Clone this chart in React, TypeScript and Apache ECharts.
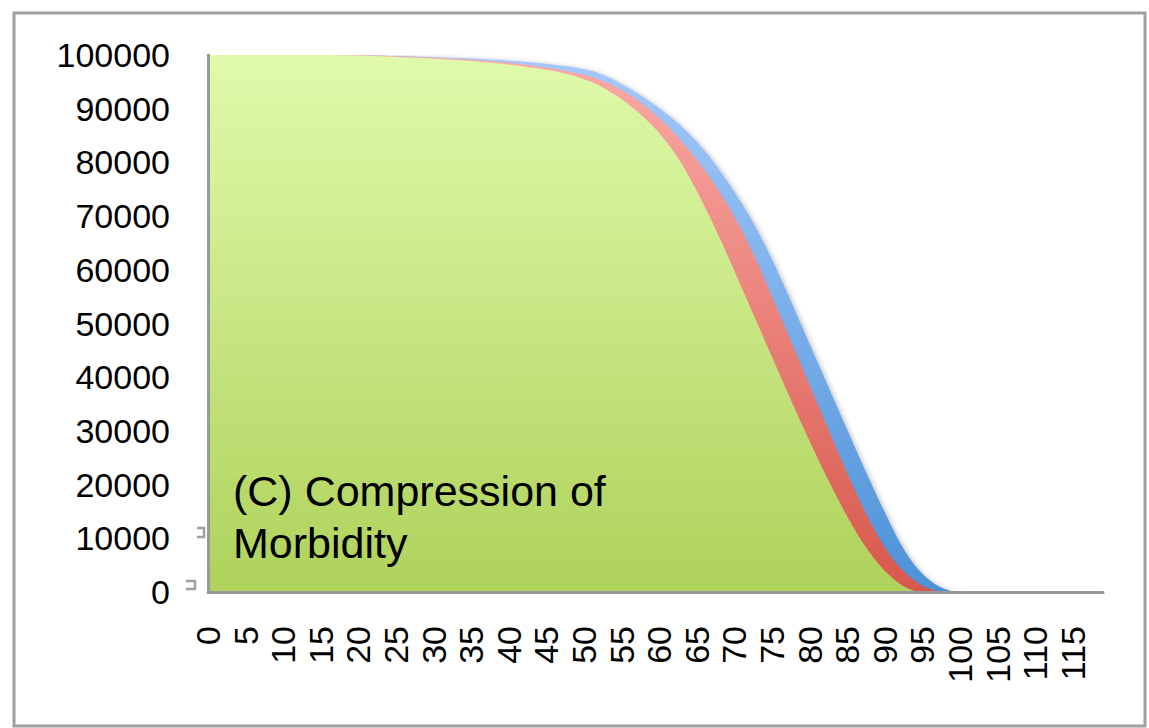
import React, { useEffect, useRef } from "react";
import * as echarts from "echarts";

const ages: string[] = Array.from({ length: 120 }, (_, i) => String(i));

const yTicks = [0, 10000, 20000, 30000, 40000, 50000, 60000, 70000, 80000, 90000, 100000];

const totalSurvival = [
  100000, 100000, 100000, 100000, 100000, 100000, 100000, 100000, 100000, 100000,
  100000, 100000, 100000, 100000, 100000, 100000, 100000, 100000, 100000, 100000,
  99980, 99960, 99940, 99910, 99880, 99850, 99810, 99770, 99730, 99690,
  99650, 99600, 99550, 99500, 99440, 99380, 99310, 99230, 99150, 99060,
  98970, 98870, 98760, 98640, 98510, 98370, 98210, 98040, 97850, 97640,
  97400, 97050, 96600, 96000, 95350, 94600, 93800, 92950, 92050, 91100,
  90100, 89050, 87900, 86650, 85300, 83850, 82250, 80500, 78600, 76600,
  74500, 72300, 70000, 67500, 64800, 61900, 58900, 55800, 52600, 49400,
  46200, 43000, 39800, 36600, 33400, 30200, 27000, 23850, 20800, 17750,
  14800, 11900, 9200, 6900, 4950, 3400, 2150, 1200, 550, 150,
  30, 0, 0, 0, 0, 0, 0, 0, 0, 0,
  0, 0, 0, 0, 0, 0, 0, 0, 0, 0,
];

const disabilityFree = [
  100000, 100000, 100000, 100000, 100000, 100000, 100000, 100000, 100000, 100000,
  100000, 100000, 100000, 100000, 100000, 100000, 100000, 100000, 100000, 100000,
  99970, 99940, 99910, 99870, 99830, 99780, 99730, 99680, 99620, 99560,
  99500, 99440, 99370, 99300, 99220, 99130, 99030, 98920, 98800, 98680,
  98550, 98400, 98250, 98080, 97880, 97660, 97420, 97170, 96900, 96620,
  96300, 95900, 95450, 94900, 94250, 93500, 92650, 91700, 90650, 89500,
  88250, 86900, 85450, 83900, 82250, 80500, 78650, 76650, 74550, 72300,
  69900, 67300, 64500, 61500, 58300, 55000, 51700, 48400, 45100, 41800,
  38500, 35200, 31900, 28600, 25300, 22100, 19000, 16000, 13200, 10600,
  8300, 6300, 4600, 3200, 2100, 1200, 550, 180, 40, 0,
  0, 0, 0, 0, 0, 0, 0, 0, 0, 0,
  0, 0, 0, 0, 0, 0, 0, 0, 0, 0,
];

const diseaseFree = [
  100000, 100000, 100000, 100000, 100000, 100000, 100000, 100000, 100000, 100000,
  100000, 100000, 100000, 100000, 100000, 100000, 99990, 99970, 99950, 99920,
  99890, 99850, 99810, 99760, 99710, 99650, 99590, 99530, 99460, 99390,
  99310, 99230, 99150, 99060, 98970, 98870, 98760, 98640, 98510, 98370,
  98220, 98060, 97880, 97690, 97480, 97250, 97000, 96700, 96350, 95950,
  95500, 94950, 94300, 93550, 92700, 91750, 90700, 89550, 88300, 86950,
  85450, 83750, 81850, 79700, 77250, 74650, 71900, 69000, 66000, 62900,
  59750, 56550, 53350, 50150, 46950, 43750, 40550, 37350, 34200, 31100,
  28050, 25050, 22150, 19350, 16650, 14050, 11600, 9300, 7300, 5500,
  3900, 2600, 1500, 700, 200, 30, 0, 0, 0, 0,
  0, 0, 0, 0, 0, 0, 0, 0, 0, 0,
  0, 0, 0, 0, 0, 0, 0, 0, 0, 0,
];

const annotation = "(C) Compression of\nMorbidity";

const FONT = "'Liberation Sans', Arial, sans-serif";
const AXIS_GRAY = "#999999";

function grad(top: string, bottom: string) {
  return new echarts.graphic.LinearGradient(0, 0, 0, 1, [
    { offset: 0, color: top },
    { offset: 1, color: bottom },
  ]);
}

export default function App() {
  const ref = useRef<HTMLDivElement>(null);

  useEffect(() => {
    if (!ref.current) return;
    const chart = echarts.init(ref.current, null, { renderer: "svg" });
    const mkSeries = (name: string, data: number[], top: string, bottom: string, shadow: boolean) => ({
      name,
      type: "line",
      data,
      showSymbol: false,
      symbol: "none",
      smooth: 0.3,
      lineStyle: { width: 0 },
      areaStyle: {
        color: grad(top, bottom),
        opacity: 1,
        ...(shadow
          ? { shadowBlur: 5, shadowColor: "rgba(0,0,0,0.25)", shadowOffsetX: 2, shadowOffsetY: 1 }
          : {}),
      },
      silent: true,
    });
    chart.setOption({
      animation: false,
      backgroundColor: "#ffffff",
      grid: { left: 208, top: 55, right: 46, bottom: 136, containLabel: false },
      xAxis: {
        type: "category",
        data: ages,
        boundaryGap: false,
        axisLine: { show: true, lineStyle: { color: AXIS_GRAY, width: 3 } },
        axisTick: { show: false },
        axisLabel: {
          interval: 4,
          rotate: 90,
          margin: 34,
          fontSize: 34,
          color: "#000",
          fontFamily: FONT,
        },
        splitLine: { show: false },
        z: 10,
      },
      yAxis: {
        type: "value",
        min: yTicks[0],
        max: yTicks[yTicks.length - 1],
        interval: yTicks[1] - yTicks[0],
        axisLine: { show: true, lineStyle: { color: AXIS_GRAY, width: 3 } },
        axisTick: { show: false },
        axisLabel: {
          margin: 38,
          fontSize: 34,
          color: "#000",
          fontFamily: FONT,
          formatter: (v: number) => String(v),
        },
        splitLine: { show: false },
        z: 10,
      },
      series: [
        mkSeries("Total survival", totalSurvival, "#a6c9fb", "#4d92d8", true),
        mkSeries("Disability-free", disabilityFree, "#fbaaa7", "#d8584c", false),
        mkSeries("Disease-free", diseaseFree, "#e0faab", "#afd25b", false),
      ],
      graphic: [
        {
          type: "rect",
          shape: { x: 14, y: 13, width: 1131, height: 713 },
          style: { fill: "none", stroke: "#a0a0a0", lineWidth: 3 },
          z: 0,
          silent: true,
        },
        {
          type: "polyline",
          shape: { points: [[197, 528], [204, 528], [204, 537], [197, 537]] },
          style: { fill: "none", stroke: "#a0a0a0", lineWidth: 2.5 },
          silent: true,
        },
        {
          type: "polyline",
          shape: { points: [[186, 581], [195, 581], [195, 589], [186, 589]] },
          style: { fill: "none", stroke: "#a0a0a0", lineWidth: 2.5 },
          silent: true,
        },
        {
          type: "text",
          left: 233,
          top: 465,
          z: 100,
          style: {
            text: annotation,
            fontSize: 43,
            lineHeight: 52,
            fontFamily: FONT,
            fill: "#000",
          },
          silent: true,
        },
      ],
    });
    return () => chart.dispose();
  }, []);

  return (
    <div
      ref={ref}
      style={{ position: "absolute", left: 0, top: 0, width: 1149, height: 728 }}
    />
  );
}
